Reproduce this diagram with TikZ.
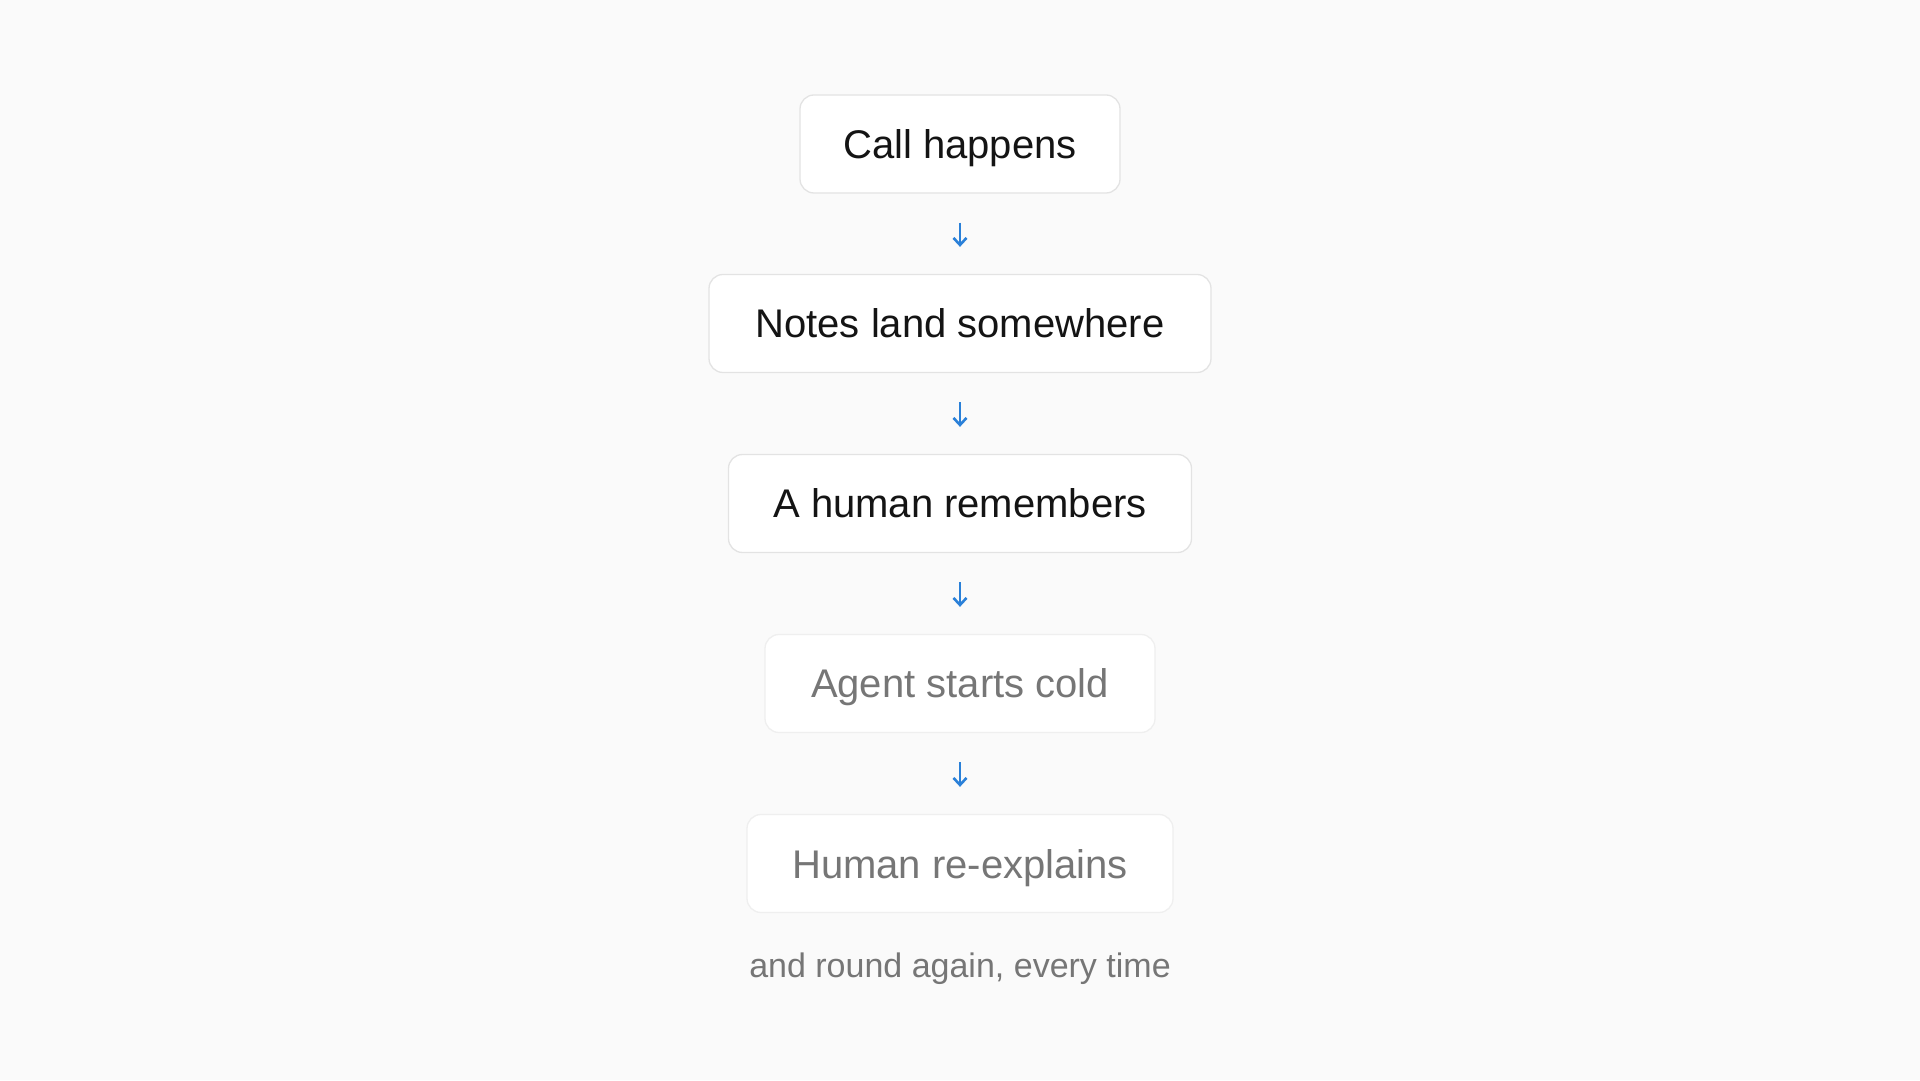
\documentclass[tikz,border=0pt]{standalone}
\usepackage{fontspec}
\setmainfont{Liberation Sans}
\usetikzlibrary{arrows.meta}
\definecolor{bg}{HTML}{FAFAFA}
\definecolor{edgedark}{HTML}{E3E3E3}
\definecolor{edgelight}{HTML}{EFEFEF}
\definecolor{txtdark}{HTML}{141414}
\definecolor{txtgray}{HTML}{767676}
\definecolor{arrowblue}{HTML}{2A80D8}
\begin{document}
\begin{tikzpicture}[x=1pt,y=1pt,
  stepbox/.style={draw=edgedark, line width=1.3pt, fill=white, rounded corners=14pt,
    minimum height=98pt, inner sep=0pt, text height=29pt, text depth=0pt,
    font=\fontsize{40}{48}\selectfont, text=txtdark},
  fadedbox/.style={stepbox, draw=edgelight, text=txtgray},
  flow/.style={draw=arrowblue, line width=2.6pt, -{Straight Barb[length=7pt,width=13pt,line width=2.6pt]}},
  footer/.style={font=\fontsize{34}{40}\selectfont, text=txtgray, anchor=base, inner sep=0pt}
]
\fill[bg] (0,0) rectangle (1920,1080);
\useasboundingbox (0,0) rectangle (1920,1080);
\node[stepbox, minimum width=320pt] (b1) at (960,936) {Call happens};
\node[stepbox, minimum width=502pt] (b2) at (960,756.5) {Notes land somewhere};
\node[stepbox, minimum width=463pt] (b3) at (960,576.5) {A human remembers};
\node[fadedbox, minimum width=390pt] (b4) at (960,396.5) {Agent starts cold};
\node[fadedbox, minimum width=426pt] (b5) at (960,216.5) {Human re-explains};
\node[footer] (f) at (960,103) {and round again, every time};
\draw[flow] ([yshift=-29pt]b1.south) -- ([yshift=27pt]b2.north);
\draw[flow] ([yshift=-29pt]b2.south) -- ([yshift=27pt]b3.north);
\draw[flow] ([yshift=-29pt]b3.south) -- ([yshift=27pt]b4.north);
\draw[flow] ([yshift=-29pt]b4.south) -- ([yshift=27pt]b5.north);
\end{tikzpicture}
\end{document}
